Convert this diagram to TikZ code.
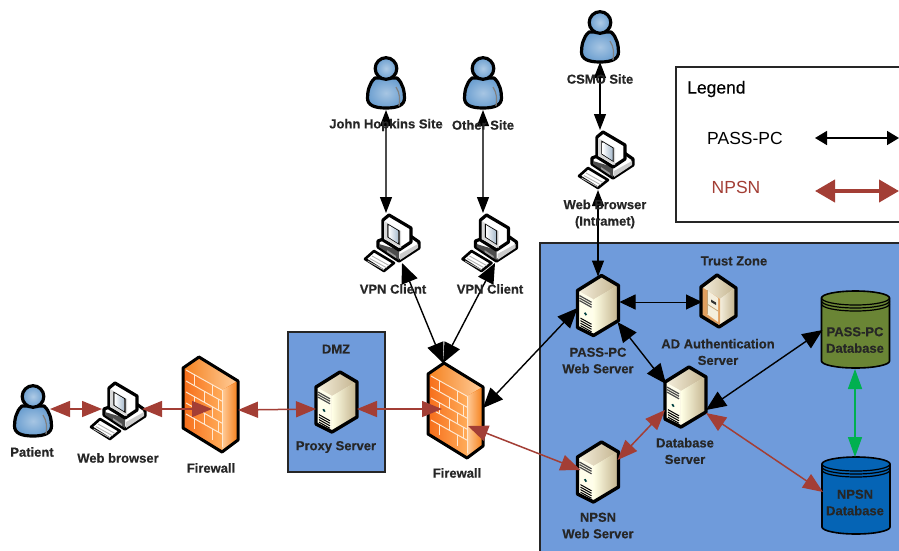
\documentclass[tikz,border=0pt]{standalone}
\usepackage{fontspec}
\setmainfont{Liberation Sans}
\newfontfamily\lblfont[FakeBold=0.35]{Liberation Sans Bold}
\newfontfamily\legfont[FakeBold=0.25]{Liberation Sans}
\usetikzlibrary{arrows.meta,calc}
\definecolor{zone}{HTML}{6F9BDB}
\definecolor{npsnred}{HTML}{A33E35}
\definecolor{passgreen}{HTML}{6A8535}
\definecolor{npsnblue}{HTML}{0564B5}
\definecolor{dbgreen}{HTML}{00B050}
\definecolor{personblue}{HTML}{6C9FD0}
\definecolor{fworange}{HTML}{F58220}
\definecolor{cream}{HTML}{F4EEDC}
\definecolor{tan}{HTML}{C4B48F}
\tikzset{
  x=1pt,y=-1pt,
  outl/.style={draw=black,line width=3.2pt,line join=round},
  box/.style={inner sep=0,outer sep=0,minimum width=#1},
  zonebox/.style={draw=black!85,line width=1.6pt,fill=zone,inner sep=0,outer sep=0},
  lbl/.style={font=\lblfont\fontsize{13}{16.5}\selectfont,align=center,text=black!85,inner sep=0},
  leg/.style={font=\fontsize{17.5}{20}\selectfont,inner sep=0},
  redarrow/.style={draw=npsnred,line width=1.5pt,{Triangle[length=20pt,width=16pt,npsnred]}-{Triangle[length=20pt,width=16pt,npsnred]}},
  blackarrow/.style={draw=black,line width=1.4pt,{Triangle[length=20pt,width=17pt]}-{Triangle[length=20pt,width=17pt]}},
  midarrow/.style={draw=black,line width=1pt,{Triangle[length=16pt,width=15pt]}-{Triangle[length=16pt,width=15pt]}},
  thinarrow/.style={draw=black!70,line width=1.2pt,{Triangle[length=16pt,width=12pt,black]}-{Triangle[length=16pt,width=12pt,black]}},
  greenarrow/.style={draw=dbgreen,line width=1.6pt,{Triangle[length=20pt,width=14pt]}-{Triangle[length=20pt,width=14pt]}},
  person/.pic={
    \shade[inner color=personblue!60!white,outer color=personblue,outl]
      (9,22) .. controls (3,27) and (1.5,36) .. (1.5,42)
      .. controls (1.5,49) and (8,52) .. (20,52)
      .. controls (32,52) and (38.5,49) .. (38.5,42)
      .. controls (38.5,36) and (37,27) .. (31,22) -- cycle;
    \draw[black!50,line width=1.2pt] (30,31) .. controls (34,37) and (34,43) .. (33,50);
    \shade[inner color=personblue!55!white,outer color=personblue,outl] (20,12.5) circle[radius=10.8];
  },
  computer/.pic={
    \path[fill=black] (14,26) -- (14,32) -- (35,46) -- (55,33) -- (55,27) -- (45,20) -- (30,20) -- cycle;
    \path[outl,fill=white] (14,26) -- (14,32) -- (35,46) -- (55,33) -- (55,27) -- (45,20) -- (30,20) -- cycle;
    \fill[black!70] (15,29) -- (15,32) -- (35,45) -- (35,35) -- cycle;
    \fill[black!20] (36,45) -- (54,33) -- (54,29) -- (36,39) -- cycle;
    \fill[black!40] (23,35) -- (32,41) -- (32,43) -- (23,37) -- cycle;
    \path[outl,fill=white] (19,5) -- (25,0) -- (47,13) -- (47,27) -- (35,35) -- (19,25) -- cycle;
    \fill[black!15] (20,6) -- (37,16) -- (37,33) -- (20,24) -- cycle;
    \draw[black,line width=1.1pt] (24,9.5) -- (35,16) -- (35,29) -- (24,22) -- cycle;
    \shade[left color=white,right color=black!25!personblue!50!white] (24.5,10) -- (34.5,16) -- (34.5,28.5) -- (24.5,22) -- cycle;
    \path[outl,line width=2.6pt,fill=white] (1,44) -- (10,36) -- (30,48) -- (20,56) -- cycle;
    \foreach \k in {0,1,2}{\draw[black!30,line width=.9pt] ({8-2.2*\k},{41+2.5*\k}) -- ({25-2.5*\k},{50.5+2.2*\k});}
  },
  server/.pic={
    \fill[cream] (24,0) -- (41,10) -- (41,45) -- (16,60) -- (0,52) -- (0,15) -- cycle;
    \shade[left color=cream,right color=tan] (1,15) -- (24,1) -- (40,10) -- (16,24) -- cycle;
    \shade[left color=white!90!yellow,right color=tan] (16,24) -- (40,10) -- (40,44) -- (16,58) -- cycle;
    \begin{scope}[shift={(1,15.5)},yslant=-0.56]
      \fill[white!92!yellow] (0,0) rectangle (14.5,36);
      \foreach \yy in {4,6.5,9}{\draw[black!70,line width=1.2pt] (1,\yy) -- (13,\yy);}
      \fill[black!50!teal] (7,19) circle[radius=1.6];
      \foreach \yy in {26,28.5,31,33.5}{\draw[black,line width=1pt] (2,\yy) -- (13,\yy);}
    \end{scope}
    \path[outl,line width=3.4pt] (24,0) -- (41,10) -- (41,45) -- (16,60) -- (0,52) -- (0,15) -- cycle;
  },
  adserver/.pic={
    \fill[cream] (16,0) -- (35,13) -- (35,41) -- (18,52) -- (0,41) -- (0,12) -- cycle;
    \shade[left color=cream,right color=tan] (1,12) -- (16,1) -- (34,13) -- (19,24) -- cycle;
    \shade[left color=cream,right color=tan] (19,24) -- (34,13) -- (34,40) -- (19,50) -- cycle;
    \fill[brown!65!orange!75!white] (1,12) -- (19,24) -- (19,50) -- (1,41) -- cycle;
    \fill[cream] (6,15) -- (17,23) -- (17,47) -- (6,39) -- cycle;
    \draw[tan!70!brown,line width=.8pt] (6,15) -- (6,39);
    \fill[black!80] (10,24.5) -- (15,27.5) -- (15,30) -- (10,27) -- cycle;
    \draw[tan!70!brown,line width=.8pt] (6,29) -- (17,36);
    \path[outl,line width=3.4pt] (16,0) -- (35,13) -- (35,41) -- (18,52) -- (0,41) -- (0,12) -- cycle;
  },
  firewall/.pic={
    \fill[fworange] (16,0) -- (55,24) -- (55,83) -- (39,95) -- (0,71) -- (0,11) -- cycle;
    \shade[left color=fworange,right color=white!60!orange] (1,11) -- (16,1) -- (54,24) -- (39,33) -- cycle;
    \shade[left color=fworange!85!red,right color=orange!65!white] (1,12) -- (39,33) -- (39,93) -- (1,70) -- cycle;
    \shade[left color=white!60!orange,right color=fworange] (39,33) -- (54,25) -- (54,82) -- (39,93) -- cycle;
    \begin{scope}[shift={(3,13)},yslant=-0.56]
      \foreach \yy in {0,11,22,33,44}{\draw[white!82!orange,line width=1pt] (0,\yy) -- (36,\yy);}
      \foreach \xa/\ya in {8/0,26/0,18/11,32/11,8/22,26/22,18/33,32/33,8/44,26/44}{\draw[white!82!orange,line width=1pt] (\xa,\ya) -- (\xa,\ya+11);}
      \draw[white!82!orange,line width=1pt] (36,0) -- (36,57);
    \end{scope}
    \path[outl,line width=3pt] (16,0) -- (55,24) -- (55,83) -- (39,95) -- (0,71) -- (0,11) -- cycle;
  },
  cyl/.pic={
    \draw[black,line width=1.6pt,fill=#1] (0,7) -- (0,70) arc[start angle=180,end angle=0,x radius=34,y radius=7] -- (68,7) arc[start angle=0,end angle=-180,x radius=34,y radius=7] -- cycle;
    \draw[black,line width=1.2pt] (0,7) arc[start angle=180,end angle=0,x radius=34,y radius=7];
    \draw[black,line width=1.2pt] (0,10) arc[start angle=180,end angle=0,x radius=34,y radius=7];
    \draw[black,line width=1.2pt] (0,13) arc[start angle=180,end angle=0,x radius=34,y radius=7];
  },
}
\begin{document}
\begin{tikzpicture}
\useasboundingbox (0,0) rectangle (899,550);
\fill[white] (0,0) rectangle (899,550);
\clip (0,0) rectangle (899,550);
% zones
\node[zonebox,minimum width=97pt,minimum height=140pt] (dmz) at (336.5,402) {};
\node[zonebox,minimum width=400pt,minimum height=340pt] (trust) at (740,413) {};
\node[draw=black!85,line width=1.6pt,fill=white,inner sep=0,minimum width=260pt,minimum height=155pt] (legend) at (806,144.5) {};
% anchor boxes
\node[box=40pt,minimum height=54pt] (pat) at (33,410) {};
\node[box=56pt,minimum height=58pt] (web) at (118,412) {};
\node[box=55pt,minimum height=95pt] (fwa) at (210.5,404.5) {};
\node[box=41pt,minimum height=60pt] (prx) at (336.5,402) {};
\node[box=55pt,minimum height=95pt] (fwb) at (455.5,410.5) {};
\node[box=40pt,minimum height=55pt] (jh) at (386,82.5) {};
\node[box=40pt,minimum height=55pt] (oth) at (483,82.5) {};
\node[box=40pt,minimum height=54pt] (csmo) at (600,36) {};
\node[box=56pt,minimum height=58pt] (vpa) at (392,244) {};
\node[box=56pt,minimum height=58pt] (vpb) at (489.5,244) {};
\node[box=56pt,minimum height=58pt] (wbi) at (606,161) {};
\node[box=41pt,minimum height=60pt] (pas) at (598,305.5) {};
\node[box=35pt,minimum height=52pt] (ads) at (718.5,301) {};
\node[box=41pt,minimum height=60pt] (dbs) at (685.5,397) {};
\node[box=41pt,minimum height=60pt] (npw) at (598,472) {};
\node[box=68pt,minimum height=77pt] (pdb) at (855.5,329.5) {};
\node[box=68pt,minimum height=71pt] (ndb) at (856,492.5) {};
% icons
\pic at ([shift={(0,1)}]pat.north west) {person};
\pic at (web.north west) {computer};
\pic at (fwa.north west) {firewall};
\pic at (prx.north west) {server};
\pic at (fwb.north west) {firewall};
\pic at ([shift={(0,1)}]jh.north west) {person};
\pic at ([shift={(0,1)}]oth.north west) {person};
\pic at ([shift={(0,1)}]csmo.north west) {person};
\pic at (vpa.north west) {computer};
\pic at (vpb.north west) {computer};
\pic at (wbi.north west) {computer};
\pic at (pas.north west) {server};
\pic at (ads.north west) {adserver};
\pic at (dbs.north west) {server};
\pic at (npw.north west) {server};
\pic at (pdb.north west) {cyl=passgreen};
\pic at (ndb.north west) {cyl=npsnblue};
% connectors
\draw[redarrow] ([shift={(-3,-1)}]pat.east) -- ([shift={(12,-3)}]web.west);
\draw[redarrow] ([shift={(-4,-3)}]web.east) -- ([shift={(29,4.5)}]fwa.west);
\draw[redarrow] ([shift={(0,5.5)}]fwa.east) -- ([shift={(0,7)}]prx.west);
\draw[redarrow] ([shift={(0,7)}]prx.east) -- ([shift={(14,-1.5)}]fwb.west);
\draw[redarrow] ([shift={(-15,15.5)}]fwb.east) -- ([shift={(3,-2)}]npw.west);
\draw[redarrow] ([shift={(-1,-12)}]npw.east) -- ([shift={(0,13)}]dbs.west);
\draw[redarrow] ([shift={(0,16)}]dbs.east) -- ([shift={(1,-.5)}]ndb.west);
\draw[greenarrow] ([shift={(-.5,1)}]pdb.south) -- ([shift={(-1,0)}]ndb.north);
\draw[blackarrow] ([shift={(-12.5,0)}]fwb.north) -- ([shift={(10,-10)}]vpa.south);
\draw[blackarrow] ([shift={(-12.5,0)}]fwb.north) -- ([shift={(5.5,-10)}]vpb.south);
\draw[blackarrow] ([shift={(0,-2.5)}]fwb.east) -- ([shift={(0,2.5)}]pas.west);
\draw[blackarrow] ([shift={(-1,16.5)}]pas.east) -- ([shift={(1,-13)}]dbs.west);
\draw[midarrow] ([shift={(1,-3.5)}]pas.east) -- ([shift={(1,1)}]ads.west);
\draw[blackarrow] ([shift={(0,13)}]dbs.east) -- ([shift={(1,.5)}]pdb.west);
\draw[thinarrow] (jh.south) -- ([shift={(-6,-2)}]vpa.north);
\draw[thinarrow] (oth.south) -- ([shift={(-6.5,-2)}]vpb.north);
\draw[thinarrow,draw=black] ([shift={(0,-1)}]csmo.south) -- ([shift={(-6,-2)}]wbi.north);
\draw[thinarrow,draw=black] ([shift={(-8,0)}]wbi.south) -- ([shift={(0,1)}]pas.north);
% legend
\coordinate (la) at (815,138); \coordinate (lb) at (899,138);
\coordinate (lc) at (815,191); \coordinate (ld) at (899,191);
\draw[draw=black,line width=1.6pt,{Triangle[length=12pt,width=14pt]}-{Triangle[length=12pt,width=14pt]}] (la) -- (lb);
\draw[draw=npsnred,line width=4pt,{Triangle[length=20pt,width=22pt]}-{Triangle[length=20pt,width=22pt]}] (lc) -- (ld);
\node[leg,font=\legfont\fontsize{17.5}{20}\selectfont,anchor=west] (tleg) at (687,89) {Legend};
\node[leg] (tpass) at (745,138) {PASS-PC};
\node[leg,text=npsnred] (tnpsn) at (736,187) {NPSN};
% labels
\node[lbl] (t1) at (32,452) {Patient};
\node[lbl] (t2) at (118,458) {Web browser};
\node[lbl] (t3) at (211,468) {Firewall};
\node[lbl] (t4) at (336,349) {DMZ};
\node[lbl] (t5) at (336,447) {Proxy Server};
\node[lbl] (t6) at (457,473) {Firewall};
\node[lbl] (t7) at (386,125) {John Hopkins Site};
\node[lbl] (t8) at (483,125) {Other Site};
\node[lbl] (t9) at (600,79) {CSMO Site};
\node[lbl] (t10) at (605,214) {Web Browser\\(Intramet)};
\node[lbl] (t11) at (393,289) {VPN Client};
\node[lbl] (t12) at (490,289) {VPN Client};
\node[lbl] (t13) at (734,261) {Trust Zone};
\node[lbl] (t14) at (598,360.5) {PASS-PC\\Web Server};
\node[lbl] (t15) at (718,352) {AD Authentication\\Server};
\node[lbl] (t16) at (685,451) {Database\\Server};
\node[lbl] (t17) at (598,525.5) {NPSN\\Web Server};
\node[lbl] (t18) at (855,340) {PASS-PC\\Database};
\node[lbl] (t19) at (855,502.5) {NPSN\\Database};
\end{tikzpicture}
\end{document}
